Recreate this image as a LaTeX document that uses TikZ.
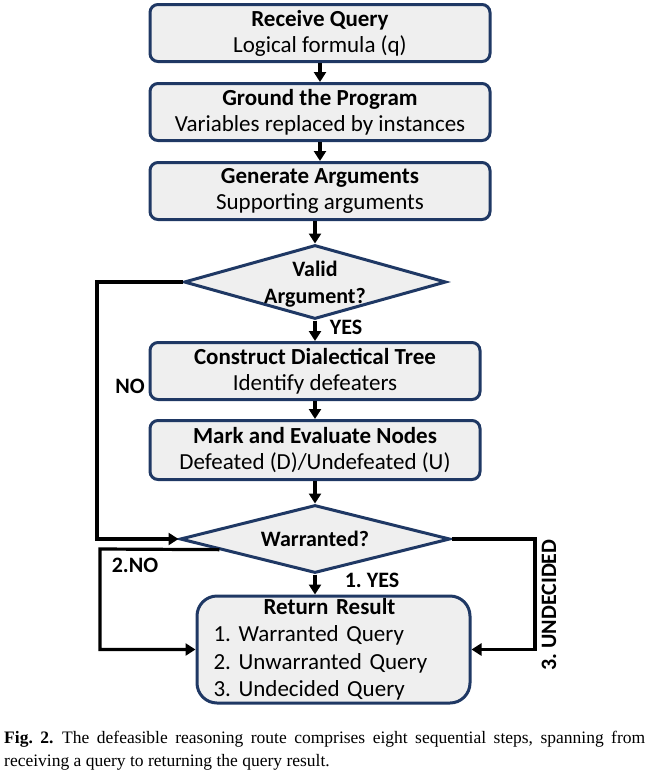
\documentclass[tikz,border=0pt]{standalone}
\usepackage{fontspec}
\setmainfont{Carlito}
\newfontfamily\capfont{Liberation Serif}
\usetikzlibrary{shapes.geometric,arrows.meta,calc}

\definecolor{boxline}{HTML}{1F3864}
\definecolor{boxfill}{HTML}{EFEFEF}

\tikzset{
  stepbox/.style={rectangle, rounded corners=8pt, draw=boxline, fill=boxfill,
    line width=3pt, minimum width=340pt, minimum height=57pt, align=center,
    inner sep=0pt, font=\fontsize{23}{26}\selectfont},
  testbox/.style={diamond, draw=boxline, fill=boxfill, line width=3pt,
    inner sep=0pt},
  flow/.style={line width=3.2pt, -{Triangle[width=12pt,length=10pt]}},
  lbl/.style={font=\fontsize{22}{24}\selectfont\bfseries}
}

\begin{document}
\frenchspacing
\begin{tikzpicture}[x=1pt, y=-1pt]
\useasboundingbox (0,0) rectangle (650,780);

% main steps
\node[stepbox] (receive) at (320, 33) {\textbf{Receive Query}\\Logical formula (q)};
\node[stepbox] (ground) at (320, 112) {\textbf{Ground the Program}\\Variables replaced by instances};
\node[stepbox] (generate) at (320, 191) {\textbf{Generate Arguments}\\Supporting arguments};

\node[testbox, minimum width=262pt, minimum height=74pt] (valid) at (315, 282) {};
\node[align=center, font=\fontsize{22}{27}\selectfont\bfseries] (validtxt) at (315, 284) {Valid\\Argument?};

\node[stepbox, minimum width=330pt] (construct) at (315, 371) {\textbf{Construct Dialectical Tree}\\Identify defeaters};
\node[stepbox, minimum width=330pt, minimum height=59pt] (mark) at (315, 450) {\textbf{Mark and Evaluate Nodes}\\Defeated (D)/Undefeated (U)};

\node[testbox, minimum width=270pt, minimum height=68pt] (warr) at (315, 539) {};
\node[font=\fontsize{22}{24}\selectfont\bfseries] (warrtxt) at (315, 539) {Warranted?};

\node[stepbox, rounded corners=20pt, minimum width=273pt, minimum height=107pt,
      text width=240pt, align=left,
      font=\fontsize{23}{27.5}\selectfont] (result) at (333.5, 649.5)
  {\makebox[240pt][c]{\hspace*{-8pt}\textbf{Return Result}}\\1. Warranted Query\\2. Unwarranted Query\\3. Undecided Query};

% connectors
\draw[flow] (receive) -- (ground);
\draw[flow] (ground) -- (generate);
\draw[flow] (generate.south -| valid.north) -- (valid);
\draw[flow] (valid) -- (construct);
\draw[flow] (construct) -- (mark);
\draw[flow] (mark) -- (warr);
\draw[flow] (warr.south) -- (warr.south |- result.north);

\coordinate (noleft) at (97, 282);
\draw[flow] (valid.west) -- (noleft) |- (warr.west);

\coordinate (twono) at ($(warr.west)!0.3!(warr.south)$);
\draw[flow] (twono) -- (100, 549) |- (result.west);

\coordinate (undec) at (535, 539);
\draw[flow] (warr.east) -- (undec) |- (result.east);

% branch labels
\node[lbl] (yes) at (346, 327) {YES};
\node[lbl] (no) at (130, 386) {NO};
\node[lbl] (twonolbl) at (135, 565) {2.NO};
\node[lbl] (oneyes) at (372, 580) {1. YES};
\node[lbl, rotate=90] (undeclbl) at (549, 605) {3. UNDECIDED};

% caption
\node[anchor=north west, text width=641pt, align=justify, inner sep=0pt,
      font=\capfont\fontsize{17.5}{23}\selectfont] (caption) at (4, 731)
  {\textbf{Fig. 2.}\enspace The defeasible reasoning route comprises eight sequential steps, spanning from\linebreak receiving a query to returning the query result.};
\end{tikzpicture}
\end{document}
